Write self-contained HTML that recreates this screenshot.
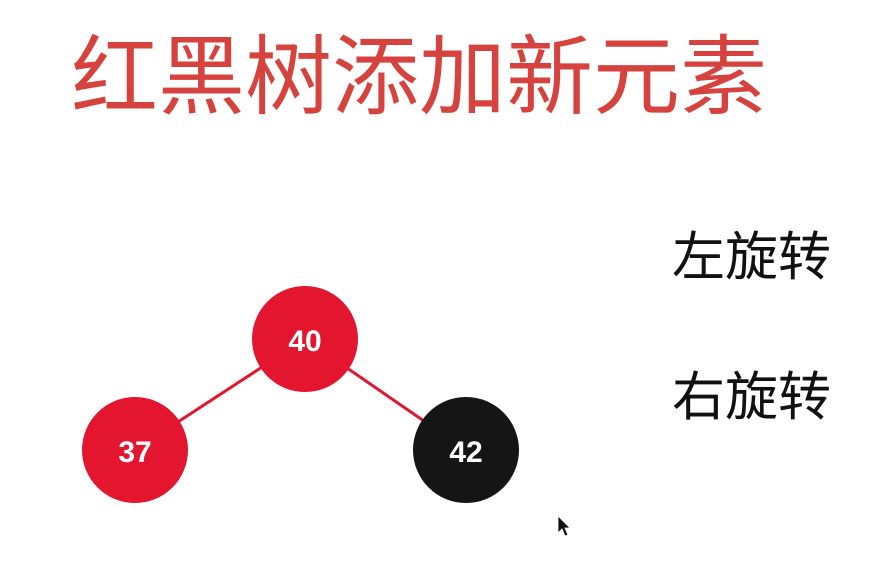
<!DOCTYPE html>
<html><head><meta charset="utf-8"><style>
html,body{margin:0;padding:0;background:#fff;width:874px;height:566px;overflow:hidden}
</style></head><body>
<svg width="874" height="566" xmlns="http://www.w3.org/2000/svg" style="display:block">
<rect width="874" height="566" fill="#fff"/>
<text x="71" y="107" font-family="'Liberation Sans','Noto Sans CJK SC',sans-serif" font-size="87" fill="#d6433f">红黑树添加新元素</text>
<text x="672" y="275" font-family="'Liberation Sans','Noto Sans CJK SC',sans-serif" font-size="53" fill="#111">左旋转</text>
<text x="672" y="415" font-family="'Liberation Sans','Noto Sans CJK SC',sans-serif" font-size="53" fill="#111">右旋转</text>
<line x1="305" y1="339" x2="135" y2="450" stroke="#e4152f" stroke-width="3"/>
<line x1="305" y1="339" x2="466" y2="450" stroke="#e4152f" stroke-width="3"/>
<circle cx="305" cy="339" r="53" fill="#e4152f"/>
<circle cx="135" cy="450" r="53" fill="#e4152f"/>
<circle cx="466" cy="450" r="53" fill="#151515"/>
<g font-family="'Liberation Sans',sans-serif" font-weight="bold" font-size="30" fill="#fff" text-anchor="middle">
<text x="305" y="351">40</text>
<text x="135" y="462">37</text>
<text x="466" y="462">42</text>
</g>
<path d="M558 516 L558 533 L562 529 L565 536 L568 535 L565 528 L570 528 Z" fill="#111" stroke="#fff" stroke-width="0.8"/>
</svg>
</body></html>
